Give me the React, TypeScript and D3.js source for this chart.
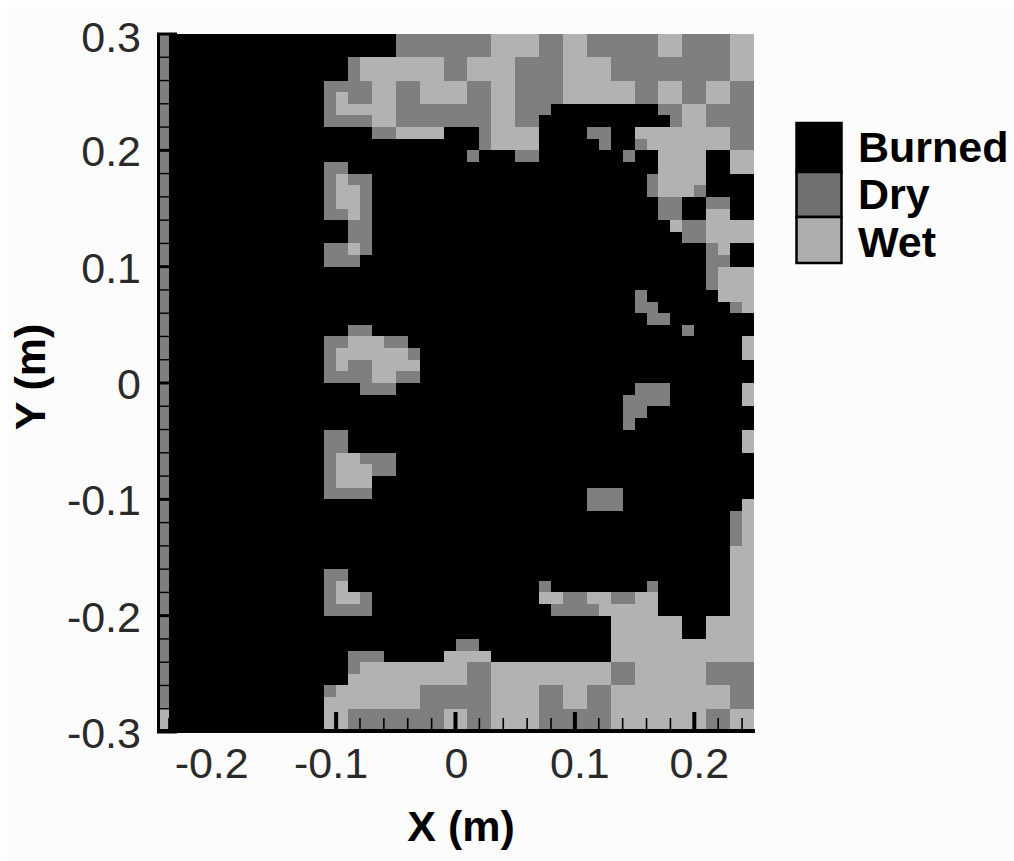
import { useEffect, useRef } from "react";
import * as d3 from "d3";

const width = 1014;
const height = 861;

// one string per grid row, top (y = 0.3) to bottom; "d12-14" = dry cells in columns 12..14, anything missing is burned
const rowRuns: string[] = [
  "d0 d20-27 w28-31 d32-33 w34-35 d36-41 w42-43 d44-47 w48-49",
  "d0 d20-27 w28-31 d32-33 w34-35 d36-41 w42-43 d44-47 w48-49",
  "d0 d16 w17-23 d24-25 w26-29 d30-33 w34-37 d38-47 w48-49",
  "d0 d16 w17-23 d24-25 w26-29 d30-33 w34-37 d38-47 w48-49",
  "d0 d14-17 w18-19 d20-21 w22-25 d26-27 w28-29 d30-33 w34-39 d40-41 w42-43 d44-45 w46-47 d48-49",
  "d0 d14 w15 d16-17 w18-19 d20-21 w22-25 d26-27 w28-29 d30-33 w34-39 d40-41 w42-43 d44-45 w46-47 d48-49",
  "d0 d14 w15-19 d20-27 w28-29 d30-32 d42-43 w44-45 d46-49",
  "d0 d14-17 w18-19 d20-27 w28-29 d30-31 d43 w44-45 d46-49",
  "d0 d18-19 w20-23 d27 w28-31 d36-37 w40-47 d48-49",
  "d0 d27 w28-31 d37 d40 w41-47 d48-49",
  "d0 d26 d30-31 d39 w42-45 w48-49",
  "d0 d14-15 w42-45 w48-49",
  "d0 d14 w15 d16-17 d41 w42-45",
  "d0 d14 w15-16 d17 d41 w42-44 d45",
  "d0 d14 w15-16 d17 d42-43 d46-47",
  "d0 d14-15 w16 d17 d42-43 w46-47",
  "d0 d16-17 w43 d44-45 w46-49",
  "d0 d16-17 d44-45 w46-49",
  "d0 d14-15 w16 d17 d46 w47",
  "d0 d14-16 d46-47",
  "d0 d46 w47-49",
  "d0 d46 w47-49",
  "d0 d40 w47-49",
  "d0 d40-41 d48 w49",
  "d0 d41-42",
  "d0 d16-17 d44",
  "d0 d14-15 w16-18 d19-20 w49",
  "d0 d14 w15-20 d21 w49",
  "d0 d14 w15 d16-17 w18-21",
  "d0 d14-17 w18-19 d20-21",
  "d0 d17-19 d40-42 w49",
  "d0 d39-42 w49",
  "d0 d39-40",
  "d0 d39",
  "d0 d14-15 w49",
  "d0 d14-15 w49",
  "d0 d14 w15-16 d17-19",
  "d0 d14 w15-17 d18-19",
  "d0 d14 w15-17",
  "d0 d14-17 d36-38",
  "d0 d36-38 w49",
  "d0 d48 w49",
  "d0 d48 w49",
  "d0 d48 w49",
  "d0 w48-49",
  "d0 w48-49",
  "d0 d14-15 w48-49",
  "d0 d14 w15 d32 d41 w48-49",
  "d0 d14 w15-16 d17 w32-33 d34-35 w36-37 d38-39 w40-41 w48-49",
  "d0 d14-17 d33-36 w37-41 w48-49",
  "d0 w38-43 w46-49",
  "d0 w38-43 w46-49",
  "d0 d25-26 w38-49",
  "d0 d16-18 w24-27 w38-49",
  "d0 d16 w17-25 d26-27 w28-37 d38-39 w40-45 d46-49",
  "d0 w16-25 d26-27 w28-37 d38-39 w40-45 d46-49",
  "d0 d14 w15-21 d22-27 w28-31 d32-33 w34-35 d36-37 w38-47 d48-49",
  "d0 w14-21 d22-27 w28-31 d32-33 w34-35 d36-37 w38-47 d48-49",
  "w0 w14-15 d16-23 w24-25 d26-27 w28-31 d32-37 w38-45 d46-47 w48-49",
  "w0 w14-15 d16-23 w24-25 d26-27 w28-31 d32-37 w38-45 d46-47 w48-49",
];

const legendLabels = ["Burned", "Dry", "Wet"];
const legendColors = ["#000000", "#717171", "#adadad"];
const xTickLabels = ["-0.2", "-0.1", "0", "0.1", "0.2"];
const xTickValues = [-0.2, -0.1, 0, 0.1, 0.2];
const yTickLabels = ["0.3", "0.2", "0.1", "0", "-0.1", "-0.2", "-0.3"];
const yTickValues = [0.3, 0.2, 0.1, 0, -0.1, -0.2, -0.3];
const font = "'Liberation Sans', Arial, sans-serif";

const App = () => {
  const ref = useRef<SVGSVGElement>(null);

  useEffect(() => {
    const svg = d3.select(ref.current);
    svg.selectAll("*").remove();

    const x = d3.scaleLinear().domain([-0.25, 0.25]).range([157, 754]);
    const y = d3.scaleLinear().domain([0.3, -0.3]).range([34, 732]);
    const color = d3.scaleOrdinal<string>().domain(["b", "d", "w"]).range(["#000000", "#7f7f7f", "#b2b2b2"]);

    svg.append("rect").attr("x", 7).attr("y", 7).attr("width", width - 7).attr("height", height - 7).attr("fill", "#fcfcfc");

    svg.append("rect")
      .attr("x", x(-0.25)).attr("y", y(0.3))
      .attr("width", x(0.25) - x(-0.25)).attr("height", y(-0.3) - y(0.3))
      .attr("fill", color("b"));

    // cells
    const cells = rowRuns.flatMap((runs, row) =>
      runs.split(" ").flatMap((run) => {
        const [a, b] = run.slice(1).split("-").map(Number);
        return d3.range(a, (b ?? a) + 1).map((col) => ({ row, col, kind: run[0] }));
      })
    );
    svg.append("g").selectAll("rect").data(cells).enter().append("rect")
      .attr("x", (d) => x(-0.25 + d.col * 0.01))
      .attr("y", (d) => y(0.3 - d.row * 0.01))
      .attr("width", x(0.01) - x(0))
      .attr("height", y(0) - y(0.01))
      .attr("fill", (d) => color(d.kind))
      .attr("shape-rendering", "crispEdges");

    // inward ticks, every 0.02 with the longer ones on 0.1
    const xTicks = d3.range(-24, 25, 2).map((v) => v / 100);
    const yTicks = d3.range(-30, 31, 2).map((v) => v / 100);
    const isMajor = (v: number) => Math.abs(v * 10 - Math.round(v * 10)) < 1e-6;

    svg.append("g").selectAll("line").data(xTicks).enter().append("line")
      .attr("x1", (d) => x(d)).attr("x2", (d) => x(d))
      .attr("y1", y(-0.3))
      .attr("y2", (d) => y(-0.3) - (isMajor(d) ? 20 : 14))
      .attr("stroke", "#000")
      .attr("stroke-width", (d) => (isMajor(d) ? 4 : 1.6));

    svg.append("g").selectAll("line").data(yTicks).enter().append("line")
      .attr("y1", (d) => y(d)).attr("y2", (d) => y(d))
      .attr("x1", x(-0.25))
      .attr("x2", (d) => x(-0.25) + (isMajor(d) ? 20 : 14))
      .attr("stroke", "#000")
      .attr("stroke-width", (d) => (isMajor(d) ? 3 : 1.4));

    // axis lines
    svg.append("line").attr("x1", 158.5).attr("x2", 158.5).attr("y1", 34).attr("y2", 733)
      .attr("stroke", "#000").attr("stroke-width", 3);
    svg.append("line").attr("x1", 157).attr("x2", 755).attr("y1", 731).attr("y2", 731)
      .attr("stroke", "#000").attr("stroke-width", 4);

    // tick labels
    svg.append("g").selectAll("text").data(xTickValues).enter().append("text")
      .attr("x", (d) => x(d) + (d < 0 ? -5 : d > 0 ? 5 : 1))
      .attr("y", 778)
      .attr("text-anchor", "middle")
      .attr("font-family", font).attr("font-size", 43).attr("fill", "#2a2a2a")
      .text((_, i) => xTickLabels[i]);

    svg.append("g").selectAll("text").data(yTickValues).enter().append("text")
      .attr("x", 141)
      .attr("y", (d) => y(d) + (d === 0.3 ? 18 : 16))
      .attr("text-anchor", "end")
      .attr("font-family", font).attr("font-size", 43).attr("fill", "#2a2a2a")
      .text((_, i) => yTickLabels[i]);

    // axis titles
    svg.append("text")
      .attr("x", 461).attr("y", 841)
      .attr("text-anchor", "middle")
      .attr("font-family", font).attr("font-size", 43).attr("font-weight", "bold")
      .text("X (m)");
    svg.append("text")
      .attr("transform", "translate(45,377) rotate(-90)")
      .attr("text-anchor", "middle")
      .attr("font-family", font).attr("font-size", 43).attr("font-weight", "bold")
      .text("Y (m)");

    // legend
    const legendTop = [123, 172, 217];
    const legendBottom = [172, 217, 263];
    const legend = svg.append("g").selectAll("g").data(legendLabels).enter().append("g");
    legend.append("rect")
      .attr("x", 796.5)
      .attr("y", (_, i) => legendTop[i])
      .attr("width", 45)
      .attr("height", (_, i) => legendBottom[i] - legendTop[i])
      .attr("fill", (_, i) => legendColors[i])
      .attr("stroke", "#000").attr("stroke-width", 2.5);
    legend.append("text")
      .attr("x", 858)
      .attr("y", (_, i) => [162, 209, 257][i])
      .attr("font-family", font).attr("font-size", 43).attr("font-weight", "bold")
      .text((d) => d);
  }, []);

  return (
    <svg
      ref={ref}
      width={width}
      height={height}
      style={{ position: "absolute", left: 0, top: 0, display: "block" }}
    ></svg>
  );
};

export default App;
